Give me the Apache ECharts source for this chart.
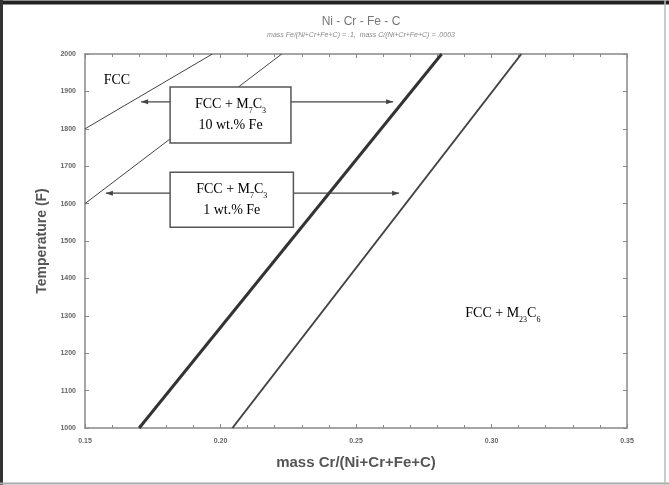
<!DOCTYPE html>
<html>
<head>
<meta charset="utf-8">
<script src="https://cdn.jsdelivr.net/npm/echarts@6/dist/echarts.min.js"></script>
<style>
html,body{margin:0;padding:0;background:#fff;}
#chart{width:669px;height:485px;}
</style>
</head>
<body>
<div id="chart"></div>
<script>
// ---- data ----
const xTicks = [0.15, 0.20, 0.25, 0.30, 0.35];
const yTicks = [1000, 1100, 1200, 1300, 1400, 1500, 1600, 1700, 1800, 1900, 2000];
const fccLimit10Fe = [[0.150, 1800], [0.197, 2000]];
const fccLimit1Fe = [[0.150, 1600], [0.2226, 2000]];
const m7c3Limit10Fe = [[0.170, 1000], [0.2816, 2000]];
const m7c3Limit1Fe = [[0.2044, 1000], [0.311, 2000]];
// callouts: [xLeftTip, xRightTip, yArrow, boxX0, boxX1, boxYTop, boxYBottom]
const callout10Fe = [0.1707, 0.2637, 1872, 0.1814, 0.2260, 1912, 1762];
const callout1Fe = [0.1577, 0.2659, 1628, 0.1814, 0.2269, 1684, 1537];
const calloutTexts = ['{t|FCC + M}{s|7}{t|C}{s|3}\n{t|10 wt.% Fe}', '{t|FCC + M}{s|7}{t|C}{s|3}\n{t|1 wt.% Fe}'];
const regionLabels = [
  {x: 0.1618, y: 1930, text: '{t|FCC}'},
  {x: 0.3042, y: 1307, text: '{t|FCC + M}{s|23}{t|C}{s|6}'}
];

const chart = echarts.init(document.getElementById('chart'));
const lineCol = '#444';
const axisCol = '#888';
const richStyle = {
  t: {fontFamily: 'Liberation Serif, Times New Roman, serif', fontSize: 14, color: '#444', lineHeight: 21},
  s: {fontFamily: 'Liberation Serif, Times New Roman, serif', fontSize: 8, color: '#444', lineHeight: 13, verticalAlign: 'bottom'}
};

function axisBase(extra) {
  return Object.assign({
    type: 'value',
    axisLine: {show: true, onZero: false, lineStyle: {color: axisCol, width: 1.5}},
    splitLine: {show: false}
  }, extra);
}

const option = {
  animation: false,
  backgroundColor: '#fff',
  title: {
    text: 'Ni - Cr - Fe - C',
    subtext: 'mass Fe/(Ni+Cr+Fe+C) = .1,  mass C/(Ni+Cr+Fe+C) = .0003',
    left: 356, top: 11, textAlign: 'center', itemGap: 4,
    textStyle: {fontFamily: 'Liberation Sans, Arial, sans-serif', fontSize: 12, fontWeight: 'normal', color: '#777'},
    subtextStyle: {fontFamily: 'Liberation Sans, Arial, sans-serif', fontSize: 7, fontStyle: 'italic', color: '#888'}
  },
  grid: {left: 85, right: 42, top: 54, bottom: 57, containLabel: false},
  xAxis: [
    axisBase({
      min: xTicks[0], max: xTicks[xTicks.length - 1], interval: 0.05, position: 'bottom',
      name: 'mass Cr/(Ni+Cr+Fe+C)', nameLocation: 'middle', nameGap: 27,
      nameTextStyle: {fontFamily: 'Liberation Sans, Arial, sans-serif', fontSize: 15, fontWeight: 'bold', color: '#555'},
      axisTick: {inside: true, length: 4, lineStyle: {color: axisCol}},
      minorTick: {show: true, splitNumber: 5, length: 3, lineStyle: {color: axisCol}},
      axisLabel: {fontSize: 7, fontWeight: 'bold', color: '#666', margin: 10,
        formatter: v => v.toFixed(2)}
    }),
    axisBase({
      min: xTicks[0], max: xTicks[xTicks.length - 1], interval: 0.05, position: 'top',
      axisTick: {inside: true, length: 4, lineStyle: {color: axisCol}},
      minorTick: {show: true, splitNumber: 5, length: 3, lineStyle: {color: axisCol}},
      axisLabel: {show: false}
    })
  ],
  yAxis: [
    axisBase({
      min: yTicks[0], max: yTicks[yTicks.length - 1], interval: 100, position: 'left',
      name: 'Temperature (F)', nameLocation: 'middle', nameGap: 33, nameRotate: 90,
      nameTextStyle: {fontFamily: 'Liberation Sans, Arial, sans-serif', fontSize: 14, fontWeight: 'bold', color: '#555'},
      axisTick: {inside: true, length: 4, lineStyle: {color: axisCol}},
      axisLabel: {fontSize: 7, fontWeight: 'bold', color: '#666', margin: 9, formatter: v => String(v)}
    }),
    axisBase({
      min: yTicks[0], max: yTicks[yTicks.length - 1], interval: 100, position: 'right',
      axisTick: {inside: true, length: 4, lineStyle: {color: axisCol}},
      axisLabel: {show: false}
    })
  ],
  graphic: [
    {type: 'line', shape: {x1: 0, y1: 2.5, x2: 669, y2: 2.5}, style: {stroke: '#222', lineWidth: 4}, z: 100},
    {type: 'line', shape: {x1: 1.5, y1: 0, x2: 1.5, y2: 485}, style: {stroke: '#333', lineWidth: 3}, z: 100},
    {type: 'line', shape: {x1: 0, y1: 483.5, x2: 669, y2: 483.5}, style: {stroke: '#aaa', lineWidth: 2}, z: 100},
    {type: 'line', shape: {x1: 665, y1: 0, x2: 665, y2: 485}, style: {stroke: '#bbb', lineWidth: 1.5}, z: 100}
  ],
  series: [
    {type: 'line', data: fccLimit10Fe, symbol: 'none', lineStyle: {color: lineCol, width: 1}, z: 2},
    {type: 'line', data: fccLimit1Fe, symbol: 'none', lineStyle: {color: lineCol, width: 1}, z: 2},
    {type: 'line', data: m7c3Limit10Fe, symbol: 'none', lineStyle: {color: '#333', width: 3}, z: 2},
    {type: 'line', data: m7c3Limit1Fe, symbol: 'none', lineStyle: {color: '#444', width: 2}, z: 2},
    {
      type: 'custom', z: 10, clip: false,
      data: [callout10Fe, callout1Fe],
      renderItem: function (params, api) {
        const d = [0,1,2,3,4,5,6].map(i => api.value(i));
        const pL = api.coord([d[0], d[2]]);
        const pR = api.coord([d[1], d[2]]);
        const b0 = api.coord([d[3], d[5]]);
        const b1 = api.coord([d[4], d[6]]);
        const y = pL[1];
        const ah = 7, aw = 2.5;
        return {
          type: 'group',
          children: [
            {type: 'line', shape: {x1: pL[0], y1: y, x2: pR[0], y2: y}, style: {stroke: '#444', lineWidth: 1.2}},
            {type: 'polygon', shape: {points: [[pL[0], y], [pL[0] + ah, y - aw], [pL[0] + ah, y + aw]]}, style: {fill: '#444'}},
            {type: 'polygon', shape: {points: [[pR[0], y], [pR[0] - ah, y - aw], [pR[0] - ah, y + aw]]}, style: {fill: '#444'}},
            {type: 'rect', shape: {x: b0[0], y: b0[1], width: b1[0] - b0[0], height: b1[1] - b0[1]},
              style: {fill: '#fff', stroke: '#555', lineWidth: 1.5}},
            {type: 'text', x: (b0[0] + b1[0]) / 2, y: (b0[1] + b1[1]) / 2,
              style: {text: calloutTexts[params.dataIndex], rich: richStyle, align: 'center', verticalAlign: 'middle'}}
          ]
        };
      }
    },
    {
      type: 'custom', z: 10, clip: false,
      data: regionLabels.map(r => [r.x, r.y]),
      renderItem: function (params, api) {
        const p = api.coord([api.value(0), api.value(1)]);
        return {type: 'text', x: p[0], y: p[1],
          style: {text: regionLabels[params.dataIndex].text, rich: richStyle, align: 'center', verticalAlign: 'middle'}};
      }
    }
  ]
};
chart.setOption(option);
</script>
</body>
</html>
